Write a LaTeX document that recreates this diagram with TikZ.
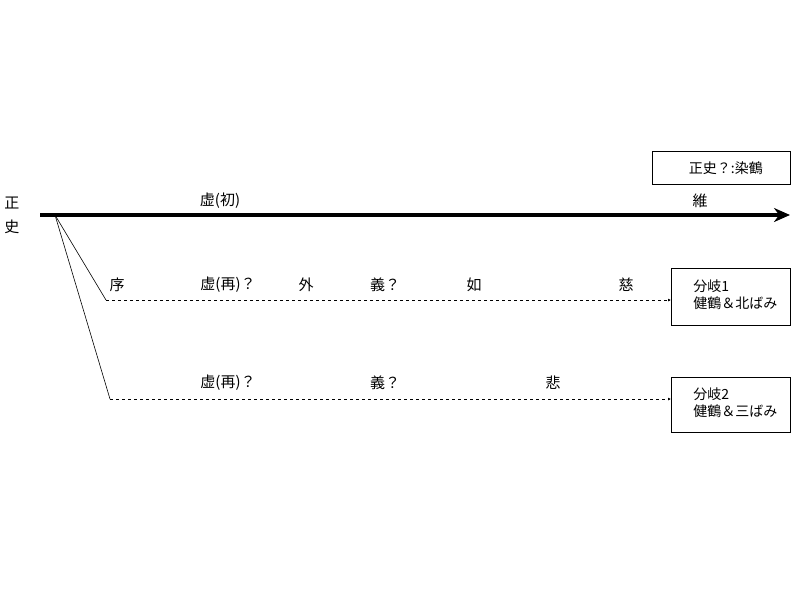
\documentclass[tikz,border=0pt]{standalone}
\usepackage{fontspec}
\setmainfont{Noto Sans CJK JP}
\usetikzlibrary{arrows.meta}
\begin{document}
\begin{tikzpicture}[x=1pt,y=-1pt,
  lbl/.style={font=\fontsize{15}{17}\selectfont,inner sep=0pt},
  bx/.style={draw,line width=0.8pt,font=\fontsize{14}{17}\selectfont,align=left,inner sep=0pt,anchor=north west},
  br/.style={line width=0.6pt},
  dsh/.style={dashed,line width=0.6pt,dash pattern=on 3pt off 3pt,-{Latex[length=3pt,width=3pt]}}]
\useasboundingbox (0,0) rectangle (800,600);
\coordinate (s) at (40,215);
\coordinate (e) at (790,215);
\coordinate (f) at (55,215);
\coordinate (b1) at (106,300);
\coordinate (b2) at (110,399);
\draw[line width=3.5pt,-{Stealth[length=16pt,width=14pt]}] (s) -- (e);
\node[bx,minimum width=138pt,minimum height=33pt] (top) at (652,151) {\hspace{9pt}正史？:染鶴};
\node[bx,minimum width=119pt,minimum height=57pt] (k1) at (671,268) {\hspace{9pt}\begin{tabular}{@{}l@{}}分岐1\\健鶴＆北ばみ\end{tabular}};
\node[bx,minimum width=119pt,minimum height=55pt] (k2) at (671,377) {\hspace{9pt}\begin{tabular}{@{}l@{}}分岐2\\健鶴＆三ばみ\end{tabular}};
\draw[br] (f) -- (b1);
\draw[br] (f) -- (b2);
\draw[dsh] (b1) -- (k1.west |- b1);
\draw[dsh] (b2) -- (k2.west |- b2);
\node[lbl] (z1) at (12,203) {正};
\node[lbl] (z2) at (12,227) {史};
\node[lbl] (a) at (220,201) {虚(初)};
\node[lbl] (b) at (700,201) {維};
\node[lbl] (c1) at (117,285) {序};
\node[lbl] (c2) at (228,285) {虚(再)？};
\node[lbl] (c3) at (306,285) {外};
\node[lbl] (c4) at (385,285) {義？};
\node[lbl] (c5) at (474,285) {如};
\node[lbl] (c6) at (626,285) {慈};
\node[lbl] (d1) at (228,383) {虚(再)？};
\node[lbl] (d2) at (385,383) {義？};
\node[lbl] (d3) at (553,383) {悲};
\end{tikzpicture}
\end{document}
